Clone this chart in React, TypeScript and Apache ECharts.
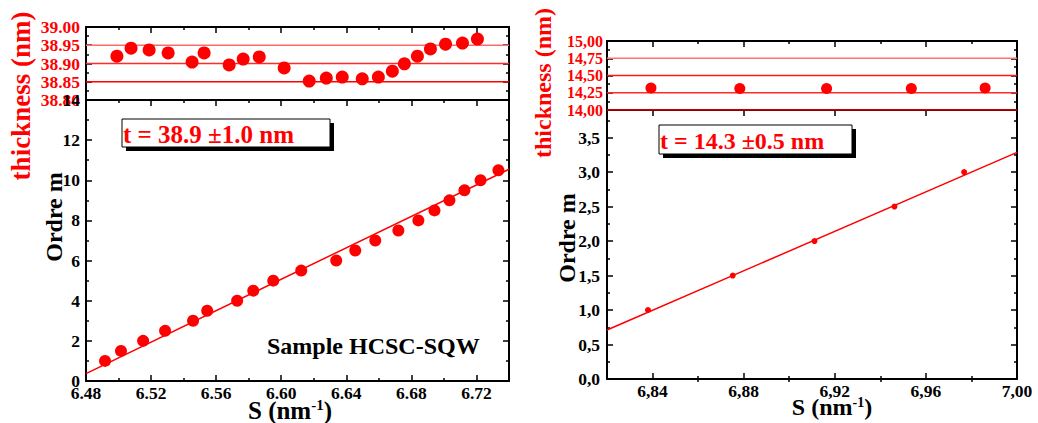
import React, { useEffect, useRef } from "react";
import * as echarts from "echarts";

// ---------- data ----------
const leftTopS = [6.499, 6.5077, 6.5188, 6.5305, 6.5452, 6.5526, 6.568, 6.5766, 6.5865, 6.6018, 6.6172, 6.6277, 6.6375, 6.6498, 6.6597, 6.6683, 6.6757, 6.6837, 6.6917, 6.701, 6.7114, 6.7206];
const leftTopT = [38.92, 38.942, 38.937, 38.929, 38.904, 38.929, 38.896, 38.912, 38.918, 38.888, 38.852, 38.86, 38.863, 38.858, 38.863, 38.879, 38.899, 38.92, 38.94, 38.953, 38.956, 38.967];
const leftBottomS = [6.4917, 6.5015, 6.5151, 6.5286, 6.5458, 6.5545, 6.5729, 6.5828, 6.5951, 6.6123, 6.6338, 6.6455, 6.6578, 6.672, 6.6843, 6.6942, 6.7034, 6.7126, 6.7225, 6.7335];
const leftBottomM = [1, 1.5, 2, 2.5, 3, 3.5, 4, 4.5, 5, 5.5, 6, 6.5, 7, 7.5, 8, 8.5, 9, 9.5, 10, 10.5];
const leftFitS = [6.48, 6.74];
const leftFitM = [0.37, 10.55];
const leftRefLines = [38.95, 38.9, 38.85];

const rightTopS = [6.8393, 6.8783, 6.9164, 6.9536, 6.986];
const rightTopT = [14.32, 14.31, 14.31, 14.31, 14.32];
const rightBottomS = [6.838, 6.8752, 6.9111, 6.9462, 6.9768];
const rightBottomM = [1, 1.5, 2, 2.5, 3];
const rightFitS = [6.82, 7.0];
const rightFitM = [0.71, 3.285];
const rightRefLines = [14.75, 14.5, 14.25, 14.0];
const rightXMajorTicks = [6.84, 6.88, 6.92, 6.96, 7.0];
const rightXMinorTicks = [6.86, 6.9, 6.94, 6.98];

const leftBoxText = "t = 38.9 \u00b11.0 nm";
const rightBoxText = "t = 14.3 \u00b10.5 nm";
const sampleText = "Sample HCSC-SQW";

// ---------- style ----------
const FONT = "Liberation Serif";
const RED = "#ff0000";
const leftRefColors = ["#ff6a6a", "#ff2a2a", "#ff0000"];
const rightRefColors = ["#ff7070", "#ff1a1a", "#ff2a2a", "#ff0000"];
const LABEL_SIZE = 17.5;

const line2 = { show: true, onZero: false, lineStyle: { color: "#000", width: 2 } };
const tick = (len: number, show = true) => ({ show, inside: true, length: len, lineStyle: { color: "#000", width: 1.5 } });
const minor = (show = true) => ({ show, splitNumber: 2, length: 3, lineStyle: { color: "#000", width: 1.5 } });
const noLabel = { show: false };
const noSplit = { show: false };
const lbl = (color: string, margin: number, fmt: (v: number) => string, extra: any = {}) => ({
  show: true, color, fontFamily: FONT, fontWeight: "bold", fontSize: LABEL_SIZE, margin, formatter: fmt,
  showMinLabel: true, showMaxLabel: true, hideOverlap: false, interval: 0, ...extra,
});
const dot = (v: number) => v.toFixed(2);
const comma2 = (v: number) => v.toFixed(2).replace(".", ",");
const comma1 = (v: number) => v.toFixed(1).replace(".", ",");

function pairs(xs: number[], ys: number[]) {
  return xs.map((x, i) => [x, ys[i]]);
}

export default function App() {
  const ref = useRef<HTMLDivElement>(null);
  useEffect(() => {
    if (!ref.current) return;
    const chart = echarts.init(ref.current, undefined, { renderer: "svg" });
    const xBase = (grid: number, min: number, max: number, position: string) => ({
      type: "value", gridIndex: grid, min, max, position, splitLine: noSplit,
    });
    const yBase = (grid: number, min: number, max: number, position: string) => ({
      type: "value", gridIndex: grid, min, max, position, splitLine: noSplit,
    });

    const xAxis: any[] = [
      { ...xBase(0, 6.48, 6.74, "bottom"), interval: 0.04, axisLine: line2, axisTick: tick(6, false), minorTick: minor(false), axisLabel: noLabel },
      { ...xBase(0, 6.48, 6.74, "top"), interval: 0.04, axisLine: line2, axisTick: tick(6), minorTick: minor(), axisLabel: noLabel },
      { ...xBase(1, 6.48, 6.74, "bottom"), interval: 0.04, axisLine: line2, axisTick: tick(6), minorTick: minor(), axisLabel: lbl("#000", 3, dot, { showMaxLabel: false }) },
      { ...xBase(1, 6.48, 6.74, "top"), interval: 0.04, axisLine: line2, axisTick: tick(6), minorTick: minor(), axisLabel: noLabel },
      { ...xBase(2, 6.82, 7.0, "bottom"), interval: 0.02, axisLine: line2, axisTick: tick(6, false), axisLabel: noLabel },
      { ...xBase(2, 6.82, 7.0, "top"), interval: 0.02, axisLine: line2, axisTick: { ...tick(6), customValues: rightXMajorTicks }, axisLabel: noLabel },
      { ...xBase(2, 6.82, 7.0, "top"), interval: 0.02, axisLine: { show: false }, axisTick: { ...tick(3), customValues: rightXMinorTicks }, axisLabel: noLabel },
      { ...xBase(3, 6.82, 7.0, "bottom"), interval: 0.02, axisLine: line2, axisTick: { ...tick(6), customValues: rightXMajorTicks }, axisLabel: { ...lbl("#000", 3, comma2), customValues: rightXMajorTicks } },
      { ...xBase(3, 6.82, 7.0, "bottom"), interval: 0.02, axisLine: { show: false }, axisTick: { ...tick(3), customValues: rightXMinorTicks }, axisLabel: noLabel },
      { ...xBase(3, 6.82, 7.0, "top"), interval: 0.02, axisLine: line2, axisTick: { ...tick(6), customValues: rightXMajorTicks }, axisLabel: noLabel },
      { ...xBase(3, 6.82, 7.0, "top"), interval: 0.02, axisLine: { show: false }, axisTick: { ...tick(3), customValues: rightXMinorTicks }, axisLabel: noLabel },
    ];

    const yAxis: any[] = [
      { ...yBase(0, 38.8, 39.0, "left"), interval: 0.05, axisLine: line2, axisTick: tick(6), minorTick: minor(), axisLabel: lbl(RED, 6, dot, { lineHeight: 14 }) },
      { ...yBase(0, 38.8, 39.0, "right"), interval: 0.05, axisLine: line2, axisTick: tick(6), minorTick: minor(), axisLabel: noLabel },
      { ...yBase(1, 0, 14, "left"), interval: 2, axisLine: line2, axisTick: tick(6), minorTick: minor(), axisLabel: lbl("#000", 6, (v: number) => String(Math.round(v))) },
      { ...yBase(1, 0, 14, "right"), interval: 2, axisLine: line2, axisTick: tick(6), minorTick: minor(), axisLabel: noLabel },
      { ...yBase(2, 14, 15, "left"), interval: 0.25, axisLine: line2, axisTick: tick(6), minorTick: minor(), axisLabel: lbl(RED, 4, comma2, { fontSize: 16, lineHeight: 14 }) },
      { ...yBase(2, 14, 15, "right"), interval: 0.25, axisLine: line2, axisTick: tick(6), minorTick: minor(), axisLabel: noLabel },
      { ...yBase(3, 0, 3.9, "left"), interval: 0.5, axisLine: line2, axisTick: tick(6), minorTick: minor(), axisLabel: lbl("#000", 7, comma1, { showMaxLabel: false }) },
      { ...yBase(3, 0, 3.9, "right"), interval: 0.5, axisLine: line2, axisTick: tick(6), minorTick: minor(), axisLabel: noLabel },
    ];

    const refSeries = (xi: number, yi: number, xr: number[], vals: number[], colors: string[]) =>
      vals.map((v, i) => ({
        type: "line", xAxisIndex: xi, yAxisIndex: yi, silent: true, symbol: "none", showSymbol: false,
        data: [[xr[0], v], [xr[1], v]], lineStyle: { color: colors[i], width: 1.5 }, z: 3,
      }));

    const series: any[] = [
      ...refSeries(0, 0, leftFitS, leftRefLines, leftRefColors),
      { type: "scatter", xAxisIndex: 0, yAxisIndex: 0, data: pairs(leftTopS, leftTopT), symbolSize: 13, itemStyle: { color: RED, opacity: 1 }, z: 5 },
      { type: "line", xAxisIndex: 2, yAxisIndex: 2, data: pairs(leftFitS, leftFitM), showSymbol: false, symbol: "none", lineStyle: { color: RED, width: 1.5 } },
      { type: "scatter", xAxisIndex: 2, yAxisIndex: 2, data: pairs(leftBottomS, leftBottomM), symbolSize: 12, itemStyle: { color: RED, opacity: 1 }, z: 5 },
      ...refSeries(4, 4, rightFitS, rightRefLines, rightRefColors),
      { type: "scatter", xAxisIndex: 4, yAxisIndex: 4, data: pairs(rightTopS, rightTopT), symbolSize: 11, itemStyle: { color: RED, opacity: 1 }, z: 5 },
      { type: "line", xAxisIndex: 7, yAxisIndex: 6, data: pairs(rightFitS, rightFitM), showSymbol: false, symbol: "none", lineStyle: { color: RED, width: 1.5 } },
      { type: "scatter", xAxisIndex: 7, yAxisIndex: 6, data: pairs(rightBottomS, rightBottomM), symbolSize: 6, itemStyle: { color: RED, opacity: 1 }, z: 5 },
    ];

    const vText = (x: number, y: number, text: string, color: string, size: number) => ({
      type: "text", x, y, rotation: Math.PI / 2, z: 100,
      style: { text, fill: color, fontFamily: FONT, fontWeight: "bold", fontSize: size, textAlign: "center", textVerticalAlign: "middle" },
    });
    const sText = (x: number, y: number, size: number, supSize: number) => ({
      type: "text", x, y, z: 100,
      style: {
        text: "{a|S (nm}{b|-1}{a|)}",
        textAlign: "center", textVerticalAlign: "middle",
        rich: {
          a: { fontFamily: FONT, fontWeight: "bold", fontSize: size, fill: "#000" },
          b: { fontFamily: FONT, fontWeight: "bold", fontSize: supSize, fill: "#000", verticalAlign: "top" },
        },
      },
    });
    const box = (x: number, y: number, w: number, h: number, text: string, size: number) => [
      { type: "rect", shape: { x: x + 4, y: y + 4, width: w, height: h }, style: { fill: "#000" }, z: 100 },
      { type: "rect", shape: { x, y, width: w, height: h }, style: { fill: "#fff", stroke: "#000", lineWidth: 1 }, z: 101 },
      { type: "text", x: x + 1, y: y + h / 2 + 1, z: 102, style: { text, fill: RED, fontFamily: FONT, fontWeight: "bold", fontSize: size, textAlign: "left", textVerticalAlign: "middle" } },
    ];

    chart.setOption({
      animation: false,
      backgroundColor: "#fff",
      grid: [
        { left: 86, top: 27, width: 423, height: 73, outerBoundsMode: "none" },
        { left: 86, top: 100, width: 423, height: 281, outerBoundsMode: "none" },
        { left: 607, top: 41, width: 410, height: 69, outerBoundsMode: "none" },
        { left: 607, top: 110, width: 410, height: 269, outerBoundsMode: "none" },
      ],
      xAxis,
      yAxis,
      series,
      graphic: [
        vText(21, 96, "thickness (nm)", RED, 27),
        vText(54, 217, "Ordre m", "#000", 24),
        vText(543, 83, "thickness (nm)", RED, 24),
        vText(567, 238, "Ordre m", "#000", 24),
        sText(290, 410, 25, 15),
        sText(832, 407, 24, 14),
        ...box(122, 119, 208, 28, leftBoxText, 25),
        ...box(659, 125, 193, 29, rightBoxText, 24),
        { type: "text", x: 267, y: 346, z: 100, style: { text: sampleText, fill: "#000", fontFamily: FONT, fontWeight: "bold", fontSize: 24, textAlign: "left", textVerticalAlign: "middle" } },
      ],
    });
    return () => chart.dispose();
  }, []);
  return <div ref={ref} style={{ position: "absolute", left: 0, top: 0, width: 1038, height: 423 }} />;
}
